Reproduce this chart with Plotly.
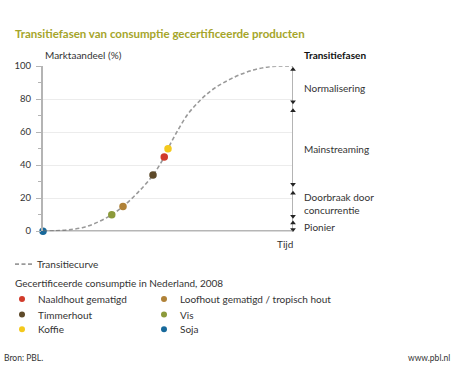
import plotly.graph_objects as go

# ---- data ----
curve_x = [0, 5, 10, 16, 22, 27.5, 32, 38, 44, 48.5, 50, 53.5, 58, 63, 68, 73.5, 79, 85, 90, 95, 100]
curve_y = [0, 0.2, 0.8, 2.2, 5.5, 10, 15, 23.5, 34, 45, 50, 60, 71, 79.5, 86, 91, 95, 98, 99.5, 100, 100]

products = ["Naaldhout gematigd", "Loofhout gematigd / tropisch hout", "Timmerhout", "Vis", "Koffie", "Soja"]
product_x = [48.5, 32, 44, 27.5, 50, 0]
product_y = [45, 15, 34, 10, 50, 0]
product_colors = ["#d13b2b", "#b08238", "#5e4a2a", "#8c9a3a", "#f4c91c", "#17699b"]

phases = ["Normalisering", "Mainstreaming", "Doorbraak door<br>concurrentie", "Pionier"]
phase_top = [98, 73, 23, 5]
phase_bottom = [78.5, 28.5, 9, 1]
phase_label_y = [86.5, 50, 17, 2.5]

y_ticks = [0, 20, 40, 60, 80, 100]

FONT = "Lato"
TXT = "#333333"
W, H = 454, 372
PL, PR, PT, PB = 43, 293, 62, 232  # plot area in pixels

fig = go.Figure()

# phase bar (right vertical line)
fig.add_trace(go.Scatter(x=[100, 100], y=[0, 100], mode="lines",
                         line=dict(color="#b4b4b4", width=2), showlegend=False,
                         hoverinfo="skip", cliponaxis=False))
fig.add_trace(go.Scatter(x=[100] * len(phase_top), y=phase_top, mode="markers",
                         marker=dict(symbol="triangle-up", size=5, color="#222"),
                         showlegend=False, hoverinfo="skip", cliponaxis=False))
fig.add_trace(go.Scatter(x=[100] * len(phase_bottom), y=phase_bottom, mode="markers",
                         marker=dict(symbol="triangle-down", size=5, color="#222"),
                         showlegend=False, hoverinfo="skip", cliponaxis=False))

# transition curve
fig.add_trace(go.Scatter(x=curve_x, y=curve_y, mode="lines",
                         line=dict(color="#9a9a9a", width=1.6, dash="4px,2.5px", shape="spline", smoothing=1.0),
                         showlegend=False, cliponaxis=False))

# product points
for name, x, y, c in zip(products, product_x, product_y, product_colors):
    fig.add_trace(go.Scatter(x=[x], y=[y], mode="markers", name=name,
                             marker=dict(size=7.5, color=c), showlegend=False,
                             cliponaxis=False))

# legend glyphs on hidden overlay axes spanning the whole figure (pixel coords)
leg_x = [22, 164, 22, 164, 22, 164]
leg_y = [302, 302, 318, 318, 333, 333]
fig.add_trace(go.Scatter(x=leg_x, y=leg_y, mode="markers", xaxis="x2", yaxis="y2",
                         marker=dict(size=6, color=product_colors), showlegend=False,
                         hoverinfo="skip", cliponaxis=False))
fig.add_trace(go.Scatter(x=[15, 32], y=[266, 266], mode="lines", xaxis="x2", yaxis="y2",
                         line=dict(color="#9a9a9a", width=1.6, dash="4px,2.5px"), showlegend=False,
                         hoverinfo="skip", cliponaxis=False))

annotations = []
def ann(text, x, y, xanchor="left", yanchor="middle", size=10, color=TXT, bold=False):
    annotations.append(dict(text=f"<b>{text}</b>" if bold else text, x=x / W, y=1 - y / H,
                            xref="paper", yref="paper",
                            xanchor=xanchor, yanchor=yanchor, showarrow=False,
                            font=dict(family=FONT, size=size, color=color), align="left"))

ann("Transitiefasen van consumptie gecertificeerde producten", 13, 28, size=11.5, color="#a5a52a", bold=True)
ann("Marktaandeel (%)", 43, 50, size=10)
ann("Transitiefasen", 302, 50, size=10, color="#111", bold=True)
ann("Tijd", 295, 245, xanchor="right", size=10)
ann("Transitiecurve", 35, 266, size=10)
ann("Gecertificeerde consumptie in Nederland, 2008", 13, 285, size=10)
for name, x, y in zip(products, leg_x, leg_y):
    ann(name, x + 14, y, size=10)
ann("Bron: PBL.", 2, 363, size=8.5)
ann("www.pbl.nl", 452, 363, xanchor="right", size=8.5)

for name, y in zip(phases, phase_label_y):
    annotations.append(dict(text=name, x=1, y=y, xref="x domain", yref="y", xanchor="left",
                            yanchor="middle", xshift=9, showarrow=False, align="left",
                            font=dict(family=FONT, size=10, color=TXT)))

fig.update_layout(
    width=W, height=H,
    margin=dict(l=0, r=0, t=0, b=0),
    paper_bgcolor="white", plot_bgcolor="rgba(0,0,0,0)",
    font=dict(family=FONT, size=10, color=TXT),
    xaxis=dict(domain=[PL / W, PR / W], range=[0, 100], showgrid=False, showticklabels=False, ticks="",
               zeroline=False, showline=False, fixedrange=True),
    yaxis=dict(domain=[1 - PB / H, 1 - PT / H], range=[0, 100], tickvals=y_ticks, ticks="outside",
               ticklen=5, tickcolor="#b4b4b4",
               tickwidth=1, showgrid=True, gridcolor="#ececec", gridwidth=1,
               zeroline=False, showline=True, linecolor="#b4b4b4", linewidth=2,
               tickfont=dict(family=FONT, size=9.5, color=TXT), ticklabelstandoff=3,
               minor=dict(dtick=10, ticks="outside", ticklen=3, tickcolor="#b4b4b4", showgrid=False),
               fixedrange=True),
    xaxis2=dict(domain=[0, 1], range=[0, W], visible=False, anchor="y2", fixedrange=True),
    yaxis2=dict(domain=[0, 1], range=[H, 0], visible=False, anchor="x2", fixedrange=True),
    annotations=annotations,
    shapes=[dict(type="line", xref="x", yref="y", x0=0, x1=100, y0=0, y1=0,
                 line=dict(color="#6e6e6e", width=1.5), layer="above")],
    showlegend=False,
    hovermode=False,
)

fig.write_html("out.html", config={"displayModeBar": False},
               post_script="document.body.style.margin='0';")
